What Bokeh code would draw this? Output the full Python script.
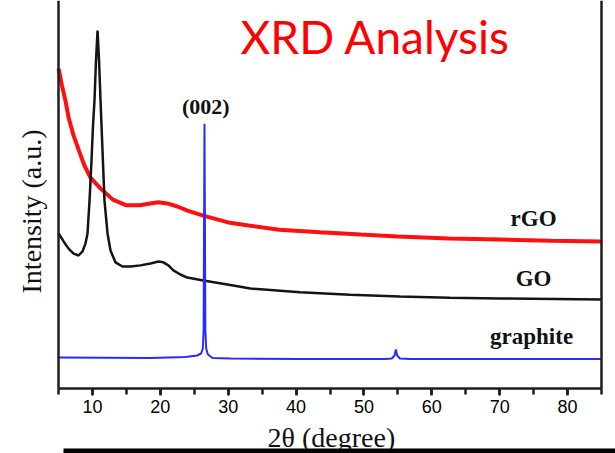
from bokeh.plotting import figure
from bokeh.models import Range1d, LinearAxis, SingleIntervalTicker, FixedTicker, Label, BoxAnnotation
from bokeh.embed import file_html
from bokeh.resources import INLINE

# ---- data ----
rgo_x = [5, 5.5, 6, 6.5, 7.2, 8, 8.8, 9.7, 11.2, 13, 15, 17, 18.5, 19.7, 21, 22.5,
         24, 26.3, 30, 33, 37.5, 43.5, 49.5, 55, 62.5, 70, 77.5, 85]
rgo_y = [84.2, 79.7, 75.8, 71.1, 66.6, 62.6, 58.7, 55.5, 52.6, 49.7, 48.2, 48.2, 48.7,
         49.0, 48.7, 47.9, 46.8, 45.5, 43.7, 42.9, 41.8, 41.1, 40.5, 40.0, 39.5, 39.2,
         38.9, 38.7]

go_x = [5, 5.74, 6.47, 7.21, 7.94, 8.53, 8.97, 9.26, 9.56, 9.85, 10.07, 10.29, 10.51,
        10.74, 10.96, 11.18, 11.47, 11.76, 12.21, 12.65, 13.38, 14.41, 15.59, 17.06,
        18.53, 19.71, 20.44, 21.18, 21.91, 22.94, 23.97, 26.32, 30.74, 33.24, 40.59,
        47.94, 55.29, 62.65, 70, 85]
go_y = [40.8, 38.7, 36.8, 35.5, 35.0, 36.1, 38.2, 40.8, 49.5, 60.0, 69.2, 75.8, 86.3,
        94.2, 86.3, 75.8, 62.6, 49.5, 40.8, 36.3, 33.2, 32.1, 32.1, 32.4, 32.9, 33.4,
        33.2, 32.4, 31.1, 30.0, 29.2, 28.4, 27.1, 26.3, 25.3, 24.7, 24.2, 23.9, 23.7,
        23.4]

gr_x = [5, 18.5, 23.7, 25.4, 26.0, 26.25, 26.37, 26.5, 26.63, 26.75, 27.0, 27.7, 30.3,
        40.6, 53.1, 54.1, 54.5, 54.7, 54.9, 55.3, 56.8, 85]
gr_y = [8.16, 8.03, 8.29, 8.68, 9.21, 10.53, 15.26, 69.7, 15.26, 10.53, 8.95, 8.03,
        7.89, 7.76, 7.76, 7.89, 8.68, 10.26, 8.68, 7.89, 7.76, 7.76]

x_min, x_max = 5, 85
tick_interval = 10
title_text = "XRD Analysis"
peak_text = "(002)"
series_names = ["rGO", "GO", "graphite"]
x_title = "2θ (degree)"
y_title = "Intensity (a.u.)"

# ---- figure: frame covers the whole canvas, axes drawn at fixed locations ----
px_per_x = 6.7857
px_per_y = 3.8
W, H = 615, 453
x0_px, y0_px = 58.1, 388.0
xr = Range1d(x_min - x0_px / px_per_x, x_min + (W - x0_px) / px_per_x)
y_top = y0_px / px_per_y
yr = Range1d(-(H - y0_px) / px_per_y, y_top)

p = figure(width=W, height=H, x_range=xr, y_range=yr,
           output_backend="svg", toolbar_location=None,
           min_border_left=0, min_border_right=0, min_border_top=0, min_border_bottom=0)
p.outline_line_color = None
p.xgrid.grid_line_color = None
p.ygrid.grid_line_color = None
p.background_fill_color = "white"
p.border_fill_color = "white"

axc = "#1e1e1e"
xa = p.xaxis[0]
xa.fixed_location = 0
xa.bounds = (x_min, x_max)
xa.ticker = SingleIntervalTicker(interval=tick_interval, num_minor_ticks=2)
xa.axis_line_width = 2.5
xa.axis_line_color = axc
xa.major_tick_line_width = 2.5
xa.minor_tick_line_width = 2.5
xa.major_tick_line_color = axc
xa.minor_tick_line_color = axc
xa.major_tick_in = 0
xa.major_tick_out = 7
xa.minor_tick_in = 0
xa.minor_tick_out = 6
xa.major_label_standoff = 4
xa.major_label_text_font = "Liberation Sans"
xa.major_label_text_font_size = "18px"
xa.major_label_text_color = "black"

ya = p.yaxis[0]
ya.fixed_location = x_min
ya.bounds = (0, y_top)
ya.ticker = FixedTicker(ticks=[])
ya.axis_line_width = 2.5
ya.axis_line_color = axc
ya.major_tick_out = 0
ya.minor_tick_out = 0
ya.major_tick_in = 0
ya.minor_tick_in = 0

ra = LinearAxis(ticker=FixedTicker(ticks=[]), axis_line_width=2.5, axis_line_color=axc,
                fixed_location=x_max, bounds=(0, y_top),
                major_tick_out=0, minor_tick_out=0, major_tick_in=0, minor_tick_in=0)
p.add_layout(ra, "right")

# ---- curves ----
p.line(rgo_x, rgo_y, line_color="#ff1010", line_width=4)
p.line(go_x, go_y, line_color="#141414", line_width=2.5)
p.line(gr_x, gr_y, line_color="#2a2aff", line_width=2)

# ---- texts ----
p.add_layout(Label(x=51.7, y=92.7, text=title_text, text_color="#ff0000",
                   text_font="Lato", text_font_size="46px",
                   text_align="center", text_baseline="alphabetic"))
p.add_layout(Label(x=26.7, y=74.2, text=peak_text, text_color="#111111",
                   text_font="Liberation Serif", text_font_style="bold",
                   text_font_size="22px", text_align="center", text_baseline="alphabetic"))
for name, xx, yy in zip(series_names, [75.0, 75.0, 74.7], [44.7, 28.9, 13.6]):
    p.add_layout(Label(x=xx, y=yy, text=name, text_color="#111111",
                       text_font="Liberation Serif", text_font_style="bold",
                       text_font_size="23px", text_align="center",
                       text_baseline="alphabetic"))

p.add_layout(Label(x=45.2, y=-12.9, text=x_title, text_color="#111111",
                   text_font="Liberation Serif", text_font_size="28px",
                   text_align="center", text_baseline="alphabetic"))
p.add_layout(Label(x=1.05, y=46.6, text=y_title, text_color="#111111",
                   text_font="Liberation Serif", text_font_size="28px", angle=1.5708,
                   text_align="center", text_baseline="middle"))

p.add_layout(BoxAnnotation(left=5.72, right=xr.end, top=-15.8, bottom=yr.start,
                           fill_color="black", fill_alpha=1.0, line_color=None))

open("out.html", "w").write(file_html(p, INLINE))
